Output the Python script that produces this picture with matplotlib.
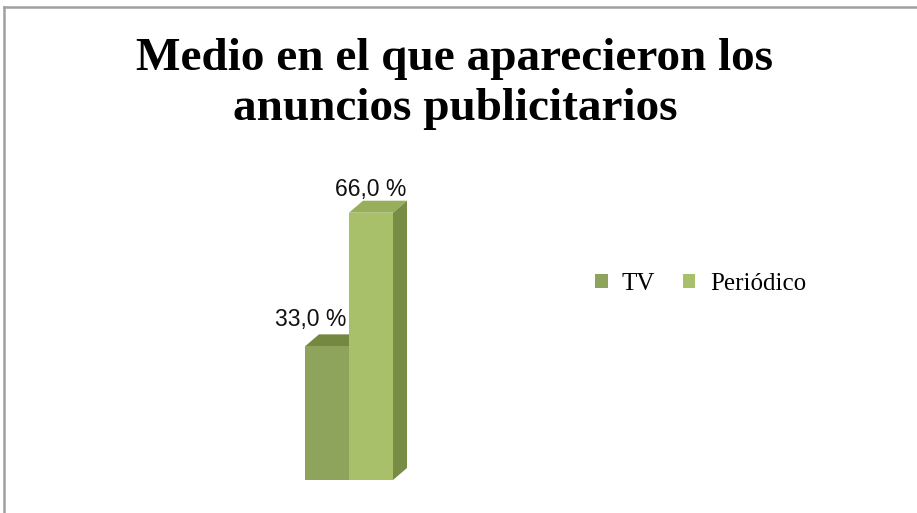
import matplotlib
matplotlib.use("Agg")
import matplotlib.pyplot as plt
from matplotlib.patches import Polygon, Patch
from matplotlib.lines import Line2D

categorias = ["TV", "Periódico"]
valores = [33.0, 66.0]
etiquetas = ["33,0 %", "66,0 %"]
titulo = ["Medio en el que aparecieron los", "anuncios publicitarios"]

col_frente = ["#8ea35b", "#a9c06b"]
col_arriba = ["#74893f", "#97af5a"]
col_lado = ["#6f8440", "#778d45"]

W, H = 917, 513
fig = plt.figure(figsize=(W / 100, H / 100), dpi=100)

# bar area: x 305..415 px, y 180..480 px
ax = fig.add_axes([305 / W, (H - 480) / H, 110 / W, 300 / H])
ax.set_xlim(0, 2.5)
ax.set_ylim(0, 300 / 4.05)
ax.axis("off")

dx = 14 / 44.0
dy = 12 / 4.05
x = [0, 1]
ax.bar(x, valores, width=1, align="edge", color=col_frente, zorder=3)
for i, v in enumerate(valores):
    x0 = x[i]
    top = Polygon([(x0, v), (x0 + dx, v + dy), (x0 + 1 + dx, v + dy), (x0 + 1, v)],
                  closed=True, facecolor=col_arriba[i], edgecolor="none", zorder=2 + i * 2)
    side = Polygon([(x0 + 1, 0), (x0 + 1 + dx, dy), (x0 + 1 + dx, v + dy), (x0 + 1, v)],
                   closed=True, facecolor=col_lado[i], edgecolor="none", zorder=2 + i * 2)
    ax.add_patch(top)
    ax.add_patch(side)

# value labels
offs = [(-16, 8), (0, 5)]
for i, v in enumerate(valores):
    ax.annotate(etiquetas[i], (x[i] + 0.5, v + dy), xytext=offs[i],
                textcoords="offset pixels", ha="center", va="baseline",
                fontsize=16.5, family="Liberation Sans", color="#111111",
                annotation_clip=False, zorder=5)

# title
fig.text(455 / W, 1 - 70 / H, titulo[0], ha="center", va="baseline",
         fontsize=34, fontweight="bold", family="Liberation Serif")
fig.text(455 / W, 1 - 120 / H, titulo[1], ha="center", va="baseline",
         fontsize=34, fontweight="bold", family="Liberation Serif")

# legend
handles = [Patch(facecolor=col_frente[i], edgecolor="none", label=categorias[i])
           for i in range(len(categorias))]
fig.legend(handles=handles, loc="center left", bbox_to_anchor=(595 / W, 1 - 284 / H),
           ncol=2, frameon=False, borderpad=0, borderaxespad=0,
           handlelength=0.5, handleheight=0.5, handletextpad=0.58, columnspacing=1.1,
           prop={"family": "Liberation Serif", "size": 18})

# frame (top and left edges visible)
fig.add_artist(Line2D([4 / W, 1], [1 - 7 / H, 1 - 7 / H], color="#a0a0a0", lw=1.8))
fig.add_artist(Line2D([4 / W, 4 / W], [0, 1 - 7 / H], color="#a0a0a0", lw=1.8))

fig.savefig("out.png", dpi=100, facecolor="white")
